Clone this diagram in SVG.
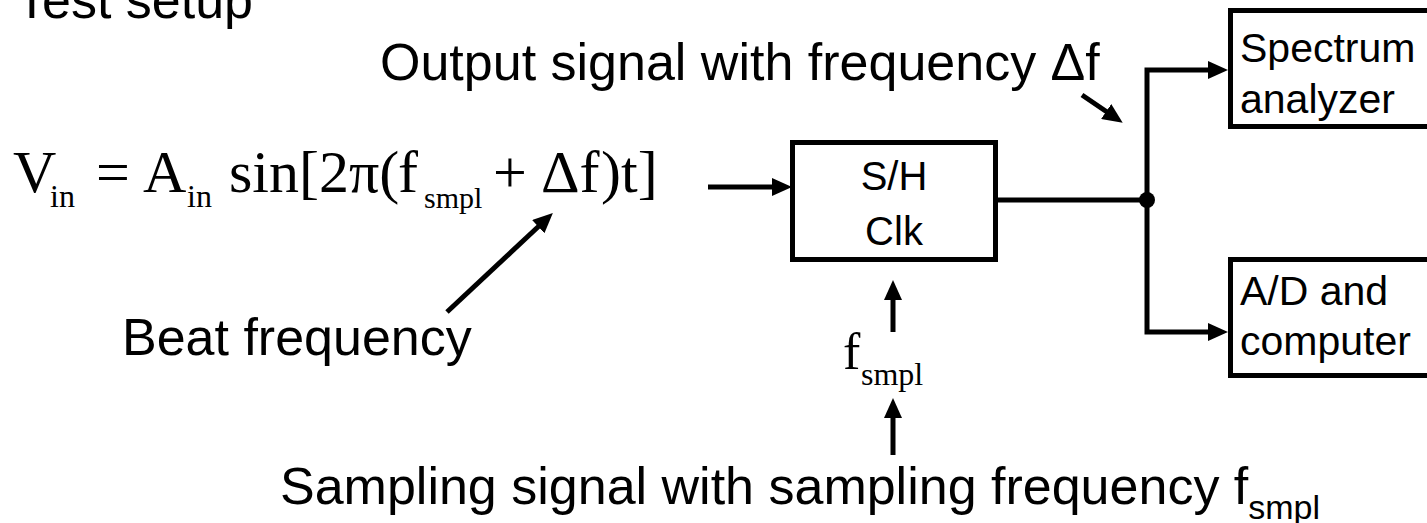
<svg xmlns="http://www.w3.org/2000/svg" width="1427" height="523" viewBox="0 0 1427 523">
<style>
  .sans { font-family: "Liberation Sans", Arial, sans-serif; fill: #000; }
  .serif { font-family: "Liberation Serif", "Times New Roman", serif; fill: #000; }
  .box { fill: #fff; stroke: #000; stroke-width: 5; }
  .wire { fill: none; stroke: #000; stroke-width: 5; }
</style>
<defs>
  <marker id="ah" viewBox="0 0 20 18" refX="1" refY="9" markerWidth="20" markerHeight="18" markerUnits="userSpaceOnUse" orient="auto">
    <path d="M0,0 L20,9 L0,18 Z" fill="#000"/>
  </marker>
</defs>
<rect width="1427" height="523" fill="#fff"/>

<text class="sans" x="16" y="18" font-size="52">Test setup</text>

<g id="equation">
  <text class="serif" x="13" y="192" font-size="60">V</text>
  <text class="serif" x="50" y="207" font-size="32">in</text>
  <text class="serif" x="96" y="192" font-size="60">=</text>
  <text class="serif" x="143" y="192" font-size="60">A</text>
  <text class="serif" x="187" y="207" font-size="32">in</text>
  <text class="serif" x="229" y="192" font-size="60">sin[2π(</text>
  <text class="serif" x="398" y="192" font-size="60">f</text>
  <text class="serif" x="424" y="208" font-size="30">smpl</text>
  <text class="serif" x="493" y="192" font-size="60">+</text>
  <text class="serif" x="541" y="192" font-size="60">Δf</text>
  <text class="serif" x="601" y="192" font-size="60">)t]</text>
</g>

<g id="beat-label">
  <text class="sans" x="122" y="355" font-size="52">Beat frequency</text>
</g>

<g id="output-label">
  <text class="sans" x="380" y="80" font-size="52">Output signal with frequency Δf</text>
</g>

<g id="sh-box">
  <rect class="box" x="792.5" y="142.5" width="203" height="117"/>
  <text class="sans" x="894" y="190" font-size="40" text-anchor="middle">S/H</text>
  <text class="sans" x="894" y="245" font-size="40" text-anchor="middle">Clk</text>
</g>

<g id="fsmpl-label">
  <text class="serif" x="843" y="369" font-size="52">f</text>
  <text class="serif" x="861" y="385" font-size="32">smpl</text>
</g>

<g id="spectrum-analyzer">
  <rect class="box" x="1230.5" y="10.5" width="220" height="116"/>
  <text class="sans" x="1240" y="62" font-size="41">Spectrum</text>
  <text class="sans" x="1240" y="113" font-size="41">analyzer</text>
</g>

<g id="ad-computer">
  <rect class="box" x="1230.5" y="259.5" width="220" height="116"/>
  <text class="sans" x="1240" y="305" font-size="41">A/D and</text>
  <text class="sans" x="1240" y="355" font-size="41">computer</text>
</g>

<g id="sampling-label">
  <text class="sans" x="280" y="504" font-size="52">Sampling signal with sampling frequency f<tspan dy="15" font-size="34">smpl</tspan></text>
</g>

<g id="connectors">
  <line class="wire" x1="708" y1="187" x2="773" y2="187" marker-end="url(#ah)"/>
  <line class="wire" x1="995" y1="200" x2="1147" y2="200"/>
  <path class="wire" d="M1147,200 V70 H1209" marker-end="url(#ah)"/>
  <path class="wire" d="M1147,200 V332 H1209" marker-end="url(#ah)"/>
  <circle cx="1147" cy="200" r="8" fill="#000"/>
  <line class="wire" x1="893" y1="332" x2="893" y2="299" marker-end="url(#ah)"/>
  <line class="wire" x1="893" y1="455" x2="893" y2="417" marker-end="url(#ah)"/>
  <line class="wire" x1="447" y1="312" x2="539" y2="226" marker-end="url(#ah)"/>
  <line class="wire" x1="1082" y1="95" x2="1107" y2="112" marker-end="url(#ah)"/>
</g>
</svg>
